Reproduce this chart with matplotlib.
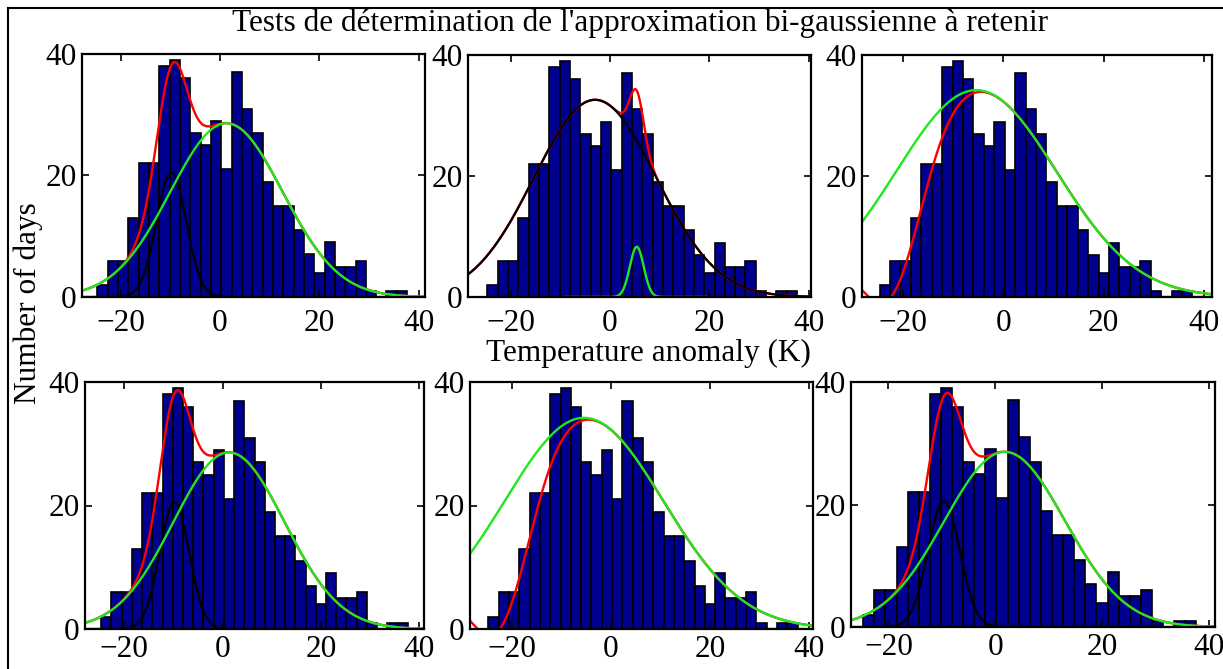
import matplotlib
matplotlib.use("Agg")
import matplotlib.pyplot as plt
import numpy as np
from matplotlib.lines import Line2D

plt.rcParams["font.family"] = ["Liberation Serif", "DejaVu Serif"]

# histogram of daily temperature anomalies (same in every panel)
counts = [2, 6, 6, 13, 22, 22, 38, 39, 36, 27, 25, 29, 21, 37, 31,
          27, 19, 15, 15, 11, 7, 4, 9, 5, 5, 6, 1, 0, 1, 1]
bin_start = -24.7
bin_width = 2.08

# gaussian components: (amplitude, mean, sigma)
black_fits = [(20.5, -9.8, 3.0), (32.6, -3.0, 12.3), (-19.5, -22.0, 5.9),
              (20.5, -9.8, 3.0), (-19.5, -22.0, 5.9), (20.5, -9.6, 3.0)]
green_fits = [(28.6, 1.3, 11.3), (8.3, 5.4, 1.4), (34.2, -5.4, 16.0),
              (28.6, 1.3, 11.3), (34.2, -5.4, 16.0), (28.6, 1.8, 11.3)]
# x-range over which the green curve was drawn (None = whole axis)
green_span = [None, (-9.1, 19.5), None, None, None, None]

xlims = [(-27.8, 41.3), (-28.6, 40.5), (-28.2, 41.6),
         (-28.0, 41.0), (-28.4, 40.8), (-27.0, 41.2)]
xticks = [-20, 0, 20, 40]
yticks = [0, 20, 40]

# axes boxes in pixels: left, top, right, bottom
boxes = [(82, 54, 425, 297), (468, 55, 811, 297), (862, 55, 1212, 297),
         (85, 382, 424, 629), (470, 382, 813, 629), (851, 382, 1215, 627)]

W, H = 1223, 669
fig = plt.figure(figsize=(W / 100, H / 100), dpi=100)

fs = 22.5
bar_col = "#00008f"
green = "#1ee81e"


def gauss(x, p):
    a, m, s = p
    return a * np.exp(-((x - m) ** 2) / (2 * s**2))


edges = bin_start + bin_width * np.arange(len(counts) + 1)

for i in range(6):
    l, t, r, b = boxes[i]
    ax = fig.add_axes([l / W, 1 - b / H, (r - l) / W, (b - t) / H])
    ax.bar(edges[:-1], counts, width=bin_width, align="edge",
           color=bar_col, edgecolor="black", linewidth=1.2)

    x = np.linspace(xlims[i][0], xlims[i][1], 600)
    yb = gauss(x, black_fits[i])
    yg = gauss(x, green_fits[i])
    ax.plot(x, yb + yg, color="red", lw=1.7)
    ax.plot(x, yb, color="black", lw=1.6)
    if green_span[i] is None:
        ax.plot(x, yg, color=green, lw=1.7)
    else:
        xg = np.linspace(green_span[i][0], green_span[i][1], 400)
        ax.plot(xg, gauss(xg, green_fits[i]), color=green, lw=1.7)

    ax.set_xlim(*xlims[i])
    ax.set_ylim(0, 40)
    ax.set_xticks(xticks)
    ax.set_yticks(yticks)
    ax.tick_params(direction="in", length=5, width=1.2, top=True, right=True,
                   labelsize=fs, pad=4)
    ax.tick_params(axis="x", pad=9 if i < 3 else 4)
    for sp in ax.spines.values():
        sp.set_linewidth(1.6)

fig.text(640 / W, 1 - 23 / H, "Tests de détermination de l'approximation bi-gaussienne à retenir",
         ha="center", va="center", fontsize=fs)
fig.text(648 / W, 1 - 353 / H, "Temperature anomaly (K)", ha="center", va="center", fontsize=fs)
fig.text(28 / W, 1 - 303 / H, "Number of days", ha="center", va="center",
         rotation=90, fontsize=fs)

# cropped outer frame (left and top edges only)
fig.add_artist(Line2D([8 / W, 8 / W], [0, 1 - 8 / H], color="black", lw=1.5,
                      transform=fig.transFigure))
fig.add_artist(Line2D([8 / W, 1], [1 - 8 / H, 1 - 8 / H], color="black", lw=1.5,
                      transform=fig.transFigure))

fig.savefig("out.png", dpi=100)
